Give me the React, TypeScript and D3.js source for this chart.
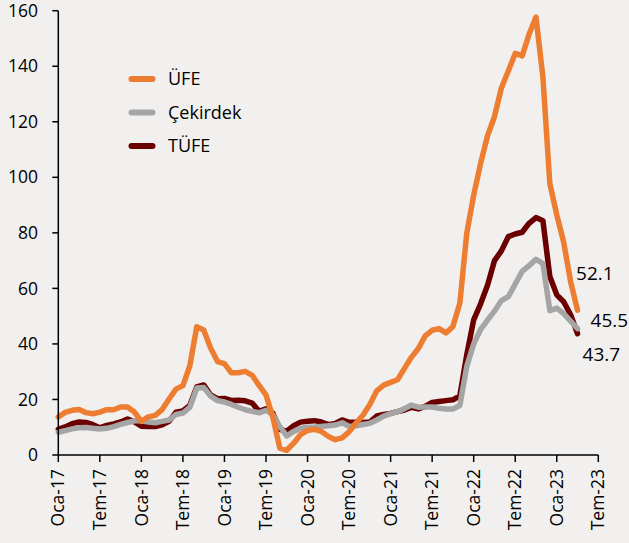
import React from "react";
import * as d3 from "d3";

// Monthly, Jan 2017 – Apr 2023 (annual % change)
const startYear = 2017;
const ufe = [
  13.69, 15.36, 16.09, 16.37, 15.26, 14.87, 15.45, 16.34, 16.28, 17.28, 17.3, 15.47,
  12.14, 13.71, 14.28, 16.37, 20.16, 23.71, 25.0, 32.13, 46.15, 45.01, 38.54, 33.64,
  32.93, 29.59, 29.64, 30.12, 28.71, 25.04, 21.66, 13.45, 2.45, 1.7, 4.26, 7.36,
  8.84, 9.26, 8.5, 6.71, 5.53, 6.17, 8.33, 11.53, 14.33, 18.2, 23.11, 25.15,
  26.16, 27.09, 31.2, 35.17, 38.33, 42.89, 44.92, 45.52, 43.96, 46.31, 54.62, 79.89,
  93.53, 105.01, 114.97, 121.82, 132.16, 138.31, 144.61, 143.75, 151.5, 157.69, 136.02, 97.72,
  86.46, 76.61, 62.46, 52.11,
];
const cekirdek = [
  8.2, 8.8, 9.4, 9.8, 9.9, 9.6, 9.4, 9.6, 10.2, 11.0, 11.7, 12.3,
  12.3, 11.9, 11.6, 12.1, 12.6, 14.6, 15.1, 17.2, 24.1, 24.3, 21.2, 19.6,
  19.1, 18.2, 17.2, 16.3, 15.7, 15.2, 16.1, 14.5, 10.2, 6.9, 8.5, 9.6,
  10.0, 10.1, 10.3, 10.5, 10.8, 11.6, 10.3, 10.5, 11.0, 11.4, 12.6, 14.0,
  14.9, 15.6, 16.7, 18.0, 17.2, 17.3, 17.3, 16.8, 16.6, 16.6, 17.8, 31.9,
  40.0, 45.2, 48.6, 51.8, 55.6, 57.0, 61.6, 66.1, 68.2, 70.5, 68.9, 52.0,
  52.9, 50.9, 48.2, 45.5,
];
const tufe = [
  9.22, 10.13, 11.29, 11.87, 11.72, 10.9, 9.79, 10.68, 11.2, 11.9, 12.98, 11.92,
  10.35, 10.26, 10.23, 10.85, 12.15, 15.39, 15.85, 17.9, 24.52, 25.24, 21.62, 20.3,
  20.35, 19.67, 19.71, 19.5, 18.71, 15.72, 16.65, 15.01, 9.26, 8.55, 10.56, 11.84,
  12.15, 12.37, 11.86, 10.94, 11.39, 12.62, 11.76, 11.77, 11.75, 11.89, 14.03, 14.6,
  14.97, 15.61, 16.19, 17.14, 16.59, 17.53, 18.95, 19.25, 19.58, 19.89, 21.31, 36.08,
  48.69, 54.44, 61.14, 69.97, 73.5, 78.62, 79.6, 80.21, 83.45, 85.51, 84.39, 64.27,
  57.68, 55.18, 50.51, 43.68,
];
const yTicks = [0, 20, 40, 60, 80, 100, 120, 140, 160];
const xTickLabels = [
  "Oca-17", "Tem-17", "Oca-18", "Tem-18", "Oca-19", "Tem-19", "Oca-20",
  "Tem-20", "Oca-21", "Tem-21", "Oca-22", "Tem-22", "Oca-23", "Tem-23",
];
const seriesNames = ["ÜFE", "Çekirdek", "TÜFE"];
const endLabels = ["52.1", "45.5", "43.7"];

const W = 629;
const H = 543;
const FONT = "'Open Sans', sans-serif";
const colors = ["#ED7D31", "#A5A5A5", "#6B0000"];

export default function App() {
  const nMonths = (xTickLabels.length - 1) * 6;
  const x = d3.scaleLinear().domain([0, nMonths]).range([58.3, 598.3]);
  const y = d3.scaleLinear().domain([0, 160]).range([455, 10.7]);
  const line = d3
    .line<number>()
    .x((_, i) => x(i))
    .y((d) => y(d))
    .curve(d3.curveLinear);

  const all = [ufe, cekirdek, tufe];
  const drawOrder = [2, 1, 0];
  const last = ufe.length - 1;
  const labelPos = [
    { dx: -1.5, dy: -37 },
    { dx: 13, dy: -8 },
    { dx: 5, dy: 21 },
  ];

  return (
    <>
      <style>{`body{margin:0;background:#F2F0EE;}`}</style>
      <svg width={W} height={H} style={{ display: "block" }} fontFamily={FONT}>
        <rect x={0} y={0} width={W} height={H} fill="#F2F0EE" />
        {/* series */}
        {drawOrder.map((si) => (
          <path
            key={si}
            d={line(all[si]) || ""}
            fill="none"
            stroke={colors[si]}
            strokeWidth={5.5}
            strokeLinejoin="round"
            strokeLinecap="round"
          />
        ))}
        {/* axes */}
        <line x1={x(0)} x2={x(0)} y1={y(160)} y2={y(0)} stroke="#000" strokeWidth={1.5} />
        <line x1={x(0)} x2={x(nMonths)} y1={y(0)} y2={y(0)} stroke="#000" strokeWidth={1.5} />
        {yTicks.map((t) => (
          <g key={t}>
            <line x1={x(0) - 6} x2={x(0)} y1={y(t)} y2={y(t)} stroke="#000" strokeWidth={1.5} />
            <text
              x={38}
              y={y(t)}
              dy="0.35em"
              textAnchor="end"
              fontSize={17.5}
              fill="#000"
            >
              {t}
            </text>
          </g>
        ))}
        {xTickLabels.map((lab, i) => {
          const xp = x(i * 6);
          return (
            <g key={lab}>
              <line x1={xp} x2={xp} y1={y(0)} y2={y(0) + 7} stroke="#000" strokeWidth={1.5} />
              <text
                transform={`translate(${xp},${469}) rotate(-90)`}
                dy="0.35em"
                textAnchor="end"
                fontSize={17.5}
                fill="#000"
              >
                {lab}
              </text>
            </g>
          );
        })}
        {/* legend */}
        {seriesNames.map((name, i) => {
          const ly = 79 + i * 33.5;
          return (
            <g key={name}>
              <line
                x1={131.5}
                x2={152.5}
                y1={ly}
                y2={ly}
                stroke={colors[i]}
                strokeWidth={6}
                strokeLinecap="round"
              />
              <text x={168} y={ly} dy="0.35em" fontSize={18} fill="#000">
                {name}
              </text>
            </g>
          );
        })}
        {/* end labels */}
        {all.map((s, i) => (
          <text
            key={i}
            x={x(last) + labelPos[i].dx}
            y={y(s[last]) + labelPos[i].dy}
            dy="0.35em"
            fontSize={19}
            fill="#000"
          >
            {endLabels[i]}
          </text>
        ))}
      </svg>
    </>
  );
}
